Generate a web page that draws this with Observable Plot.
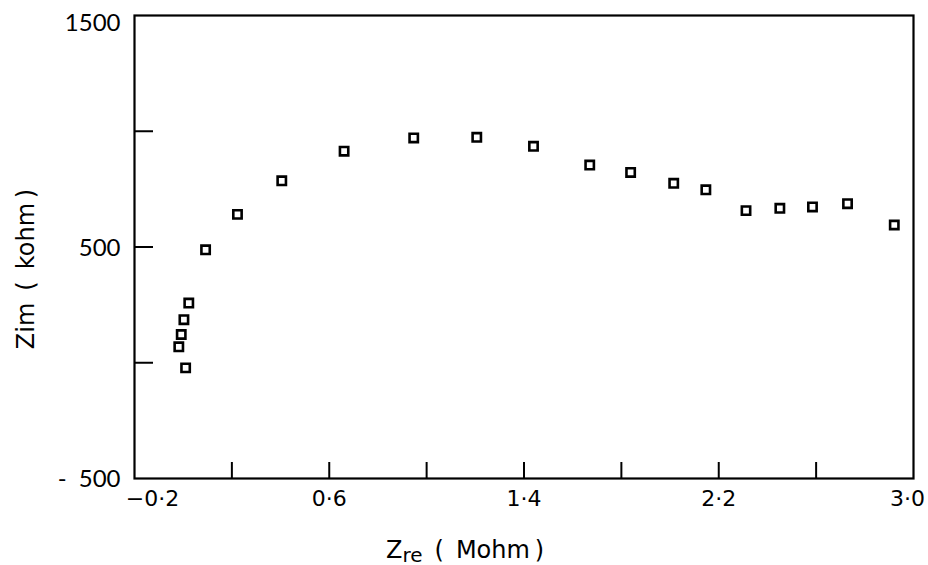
<!DOCTYPE html>
<html>
<head>
<meta charset="utf-8">
<script src="https://cdn.jsdelivr.net/npm/d3@7"></script>
<script src="https://cdn.jsdelivr.net/npm/@observablehq/plot@0.6"></script>
<style>
  html, body { margin: 0; padding: 0; background: white; }
</style>
</head>
<body>
<div id="chart"></div>
<script>
// Impedance data (Zre in Mohm, Zim in kohm)
const zre = [0.010, -0.018, -0.008, 0.003, 0.023, 0.092, 0.223, 0.405, 0.661, 0.947, 1.206, 1.439, 1.670, 1.838, 2.015, 2.147, 2.312, 2.451, 2.585, 2.729, 2.921];
const zim = [-22, 69, 122, 186, 258, 488, 641, 786, 914, 971, 974, 935, 854, 822, 775, 747, 657, 667, 673, 687, 595];

const xTickMarks = [0.2, 0.6, 1.0, 1.4, 1.8, 2.2, 2.6];
const xTickLabelsMid = [0.6, 1.4, 2.2];
const xTickLabelFirst = [-0.2];
const xTickLabelLast = [3.0];
const yTickMarks = [0, 500, 1000];
const yTickLabelsLow = [-500, 500];
const yTickLabelTop = [1500];

const xTitle = "Zre ( Mohm )";
const yTitle = "Zim ( kohm )";

const data = zre.map((x, i) => ({x, y: zim[i]}));

const W = 928, H = 565;
const mL = 134, mR = 15, mT = 15, mB = 87;
const plotW = W - mL - mR, plotH = H - mT - mB;

const fmtX = d => (d < 0 ? "\u2212" : "") + Math.abs(d).toFixed(1).replace(".", "\u00B7");
const fmtY = d => d < 0 ? "-\u2002" + Math.abs(d) : String(d);

const fontNum = "Lato, 'Open Sans', sans-serif";
const fontX = "'DejaVu Sans', sans-serif";

const chart = Plot.plot({
  width: W,
  height: H,
  marginLeft: mL,
  marginRight: mR,
  marginTop: mT,
  marginBottom: mB,
  x: {domain: [-0.2, 3.0]},
  y: {domain: [-500, 1500]},
  style: {fontFamily: fontNum, background: "white", color: "black"},
  marks: [
    Plot.frame({stroke: "black", strokeWidth: 2.2}),
    Plot.tickX(xTickMarks, {x: d => d, stroke: "black", strokeWidth: 2, insetTop: plotH - 16}),
    Plot.tickY(yTickMarks, {y: d => d, stroke: "black", strokeWidth: 2, insetRight: plotW - 19}),
    Plot.axisX(xTickLabelsMid, {tickSize: 0, tickPadding: 12, fontSize: 22, fontFamily: fontX, tickFormat: fmtX, label: null}),
    Plot.axisX(xTickLabelFirst, {tickSize: 0, tickPadding: 12, fontSize: 22, fontFamily: fontX, tickFormat: fmtX, label: null, dx: 18}),
    Plot.axisX(xTickLabelLast, {tickSize: 0, tickPadding: 12, fontSize: 22, fontFamily: fontX, tickFormat: fmtX, label: null, dx: -6}),
    Plot.axisY(yTickLabelsLow, {tickSize: 0, tickPadding: 14, fontSize: 24, tickFormat: fmtY, label: null, dy: 1}),
    Plot.axisY(yTickLabelTop, {tickSize: 0, tickPadding: 14, fontSize: 24, tickFormat: fmtY, label: null, dy: 8}),
    Plot.text([xTitle], {frameAnchor: "bottom", text: d => d, textAnchor: "middle", dx: -59, dy: 79, fontSize: 24, fontFamily: fontX, className: "xtitle"}),
    Plot.text([yTitle], {frameAnchor: "left", text: d => d, textAnchor: "middle", dx: -108, dy: 22, rotate: -90, fontSize: 24, fontFamily: fontX, className: "ytitle"}),
    Plot.dot(data, {x: "x", y: "y", symbol: "square", r: 4.7, stroke: "black", strokeWidth: 2.6, fill: "none"})
  ]
});

// subscripts / spacing in axis titles
d3.select(chart).selectAll(".xtitle text").each(function() {
  const t = d3.select(this);
  t.text(null);
  t.append("tspan").text("Z");
  t.append("tspan").attr("font-size", 20).attr("dy", 4).text("re");
  t.append("tspan").attr("dy", -4).text("\u2002(\u2002Mohm\u2009)");
});
d3.select(chart).selectAll(".ytitle text").each(function() {
  const t = d3.select(this);
  t.text(null);
  t.append("tspan").text("Zim");
  t.append("tspan").text("\u2002(\u2002kohm\u2009)");
});

document.getElementById("chart").append(chart);
</script>
</body>
</html>
